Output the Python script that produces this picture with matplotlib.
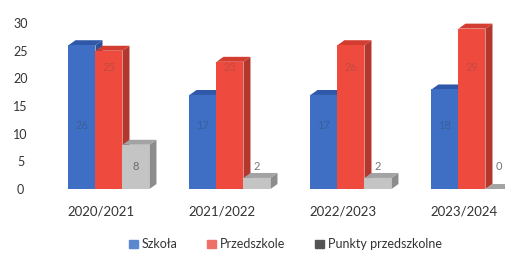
import matplotlib.pyplot as plt
from matplotlib.patches import Patch
import numpy as np

plt.rcParams['font.family'] = ['Lato', 'DejaVu Sans']

years = ["2020/2021", "2021/2022", "2022/2023", "2023/2024"]
szkola = [26, 17, 17, 18]
przedszkole = [25, 23, 26, 29]
punkty = [8, 2, 2, 0]
series_names = ["Szkoła", "Przedszkole", "Punkty przedszkolne"]

# front / top / side / label colours for each series
colors = [
    ("#3f6fc4", "#2f59a8", "#2d5296", "#3a5a90"),
    ("#ee4b3e", "#d23c31", "#b3372d", "#b94a40"),
    ("#c4c4c4", "#a3a3a3", "#8c8c8c", "#555555"),
]
legend_colors = ["#5b87cf", "#ef6f68", "#555555"]

fig = plt.figure(figsize=(5.05, 2.56), dpi=100)
ax = fig.add_axes([40 / 505, 67 / 256, 1 - 40 / 505, 185 / 256])

x = np.arange(len(years))
width = 0.223
offsets = [-0.157, 0.066, 0.289]
dx, dy = 0.058, 0.9
label_y = [11.5, 22, 4]

for k, vals in enumerate([szkola, przedszkole, punkty]):
    front, top, side, lab = colors[k]
    for i, v in enumerate(vals):
        x0 = x[i] + offsets[k] - width / 2
        x1 = x0 + width
        z = 2 + k
        ax.fill([x1, x1, x1 + dx, x1 + dx], [0, v, v + dy, dy],
                color=side, zorder=z, lw=0)
        ax.fill([x0, x0 + dx, x1 + dx, x1], [v, v + dy, v + dy, v],
                color=top, zorder=z, lw=0)
        ax.bar(x0, v, width=width, align='edge', color=front, zorder=z + 0.1, lw=0)
        ax.text(x0 + width / 2, label_y[k], str(v), ha='center', va='center',
                fontsize=8, color=lab, alpha=0.8, zorder=10)

ax.set_xlim(-0.504, 3.339)
ax.set_ylim(0, 33.45)
ax.set_yticks(range(0, 31, 5))
ax.set_yticklabels([str(t) for t in range(0, 31, 5)], ha='center')
ax.set_xticks(x)
ax.set_xticklabels(years, fontsize=9.5, color="#333333")
ax.tick_params(axis='y', labelsize=9, colors="#333333", length=0, pad=14)
ax.tick_params(axis='x', length=0, pad=12)
for s in ax.spines.values():
    s.set_visible(False)

handles = [Patch(color=c) for c in legend_colors]
fig.legend(handles, series_names, loc='center', bbox_to_anchor=(0.565, 0.045),
           ncol=3, frameon=False, fontsize=9, handlelength=0.7,
           handleheight=0.7, handletextpad=0.3, columnspacing=2.4,
           labelcolor="#333333")

fig.savefig("out.png", dpi=100)
